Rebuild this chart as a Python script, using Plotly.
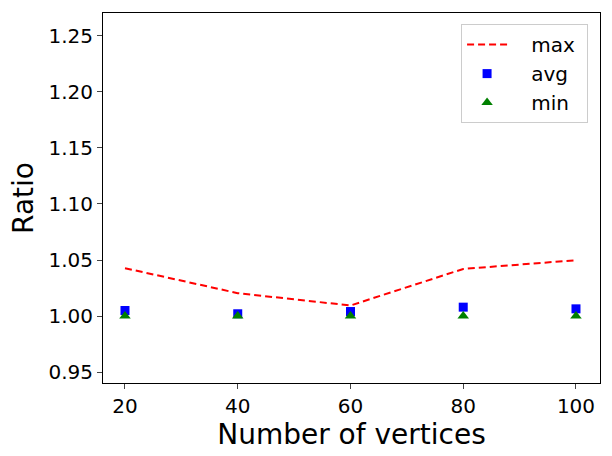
import plotly.graph_objects as go

vertices = [20, 40, 60, 80, 100]
ratio_max = [1.0427, 1.0204, 1.0094, 1.0420, 1.0498]
ratio_avg = [1.0049, 1.0020, 1.0040, 1.0079, 1.0064]
ratio_min = [1.0, 1.0, 1.0, 1.0, 1.0]
y_ticks = [0.95, 1.00, 1.05, 1.10, 1.15, 1.20, 1.25]
x_ticks = [20, 40, 60, 80, 100]

font = "DejaVu Sans"
pad_l = "\u00a0\u00a0\u00a0"
pad_r = "\u00a0"
fig = go.Figure()
fig.add_trace(go.Scatter(x=vertices, y=ratio_max, mode="lines", name=pad_l + "max" + pad_r,
                         line=dict(color="red", dash="7px,4px", width=2)))
fig.add_trace(go.Scatter(x=vertices, y=ratio_avg, mode="markers", name=pad_l + "avg" + pad_r,
                         marker=dict(color="blue", symbol="square", size=9)))
fig.add_trace(go.Scatter(x=vertices, y=ratio_min, mode="markers", name=pad_l + "min" + pad_r,
                         marker=dict(color="green", symbol="triangle-up", size=10)))

fig.update_layout(
    width=612, height=456,
    margin=dict(l=103, r=12, t=13, b=73),
    paper_bgcolor="white", plot_bgcolor="white",
    font=dict(family=font, size=20, color="black"),
    showlegend=True,
    legend=dict(x=0.976, y=0.97, xanchor="right", yanchor="top",
                bgcolor="white", bordercolor="#cccccc", borderwidth=1,
                font=dict(size=20), tracegroupgap=0, itemwidth=40),
    xaxis=dict(range=[16.1, 104.26], tickvals=x_ticks, ticks="outside", ticklen=5,
               showline=True, linecolor="black", linewidth=1, mirror=True,
               showgrid=False, zeroline=False,
               title=dict(text="Number of vertices", font=dict(size=28), standoff=4)),
    yaxis=dict(range=[0.9402, 1.2705], tickvals=y_ticks,
               ticktext=[f"{v:.2f}" for v in y_ticks], ticks="outside", ticklen=5,
               showline=True, linecolor="black", linewidth=1, mirror=True,
               showgrid=False, zeroline=False,
               title=dict(text="Ratio", font=dict(size=28), standoff=6)),
)
fig.write_html("out.html")
